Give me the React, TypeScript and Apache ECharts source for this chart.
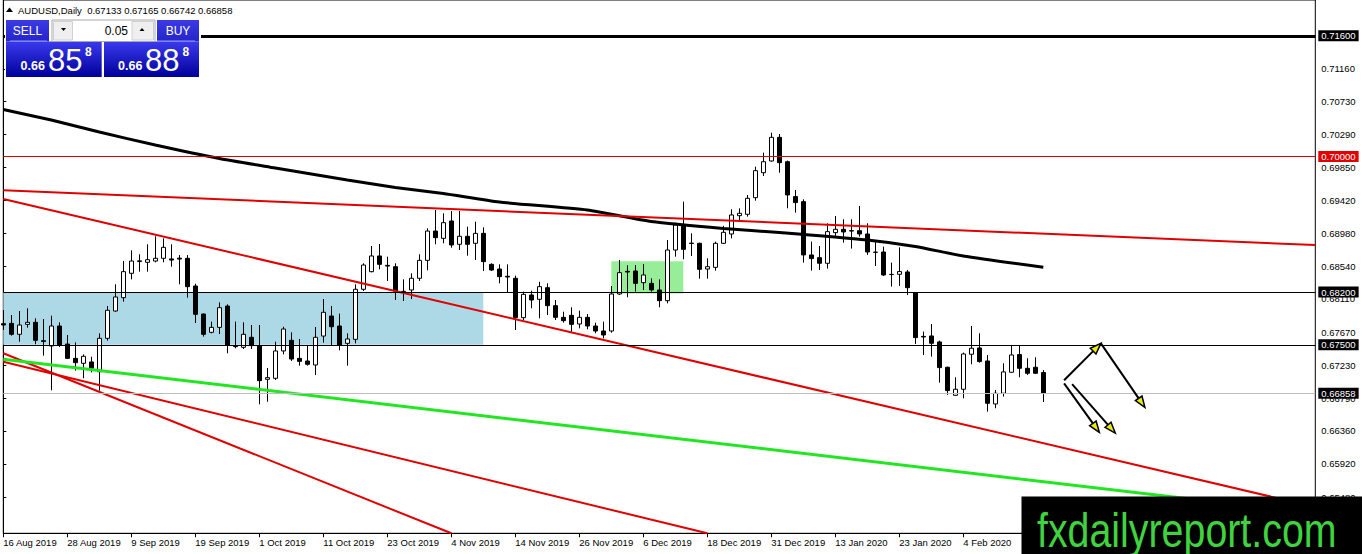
import React, { useEffect, useRef } from "react";
import * as echarts from "echarts";

const chartTitle = "AUDUSD,Daily";
const xTickLabels = [
  "16 Aug 2019", "28 Aug 2019", "9 Sep 2019", "19 Sep 2019", "1 Oct 2019", "11 Oct 2019",
  "23 Oct 2019", "4 Nov 2019", "14 Nov 2019", "26 Nov 2019", "6 Dec 2019", "18 Dec 2019",
  "31 Dec 2019", "13 Jan 2020", "23 Jan 2020", "4 Feb 2020",
];
const slotCount = 165;
const barsPerTick = 8;

const opens = [
  0.67781, 0.67785, 0.6764, 0.67772, 0.67799, 0.67555, 0.67485, 0.6775, 0.67511, 0.67321,
  0.67255, 0.67273, 0.67144, 0.67587, 0.67949, 0.68126, 0.68449, 0.68605, 0.68595, 0.68612,
  0.68648, 0.6864, 0.6865, 0.68648, 0.68281, 0.67909, 0.67666, 0.67732, 0.68015, 0.6748,
  0.67467, 0.676, 0.67489, 0.67043, 0.67056, 0.67419, 0.6756, 0.67321, 0.67286, 0.67233,
  0.67617, 0.67883, 0.6775, 0.6752, 0.67573, 0.68237, 0.68471, 0.68679, 0.68555, 0.68537,
  0.6821, 0.68228, 0.68383, 0.68621, 0.6901, 0.68913, 0.69143, 0.68834, 0.6894, 0.68847,
  0.68979, 0.68568, 0.68506, 0.6841, 0.68383, 0.67861, 0.68162, 0.68104, 0.68259, 0.6802,
  0.67865, 0.67892, 0.67777, 0.67865, 0.6775, 0.67684, 0.67684, 0.68175, 0.68475, 0.6848,
  0.68325, 0.68316, 0.68228, 0.68086, 0.68758, 0.6909, 0.6885, 0.68847, 0.68506, 0.68528,
  0.68847, 0.68971, 0.69214, 0.69232, 0.69453, 0.69784, 0.69939, 0.70253, 0.6993, 0.69467,
  0.694, 0.68693, 0.68657, 0.68582, 0.68989, 0.69033, 0.69015, 0.69015, 0.68971, 0.6873,
  0.68732, 0.68435, 0.68436, 0.68467, 0.68193, 0.67612, 0.67618, 0.67539, 0.67203, 0.66831,
  0.66911, 0.67375, 0.67459, 0.67286, 0.66716, 0.66858, 0.67136, 0.67371, 0.67189, 0.67203,
  0.67133,
];
const highs = [
  0.67962, 0.67896, 0.67949, 0.67985, 0.67852, 0.67843, 0.67887, 0.67799, 0.67631, 0.67533,
  0.67374, 0.67343, 0.67653, 0.68015, 0.68303, 0.68612, 0.68754, 0.68701, 0.68834, 0.6894,
  0.68913, 0.68834, 0.68692, 0.68692, 0.68312, 0.67915, 0.67808, 0.68064, 0.68038, 0.67808,
  0.67799, 0.67763, 0.67763, 0.67193, 0.67542, 0.67741, 0.67666, 0.67578, 0.67489, 0.67737,
  0.68108, 0.68015, 0.67914, 0.67653, 0.68303, 0.68582, 0.68811, 0.68838, 0.6867, 0.68582,
  0.68369, 0.68449, 0.68701, 0.69046, 0.69289, 0.69245, 0.69276, 0.69276, 0.69068, 0.69134,
  0.69059, 0.68582, 0.68568, 0.68568, 0.68418, 0.68206, 0.68219, 0.68338, 0.68316, 0.68095,
  0.6794, 0.67998, 0.67954, 0.67909, 0.67794, 0.67808, 0.68281, 0.68626, 0.68555, 0.68559,
  0.68573, 0.68383, 0.68369, 0.68891, 0.69121, 0.694, 0.6898, 0.68856, 0.68648, 0.68869,
  0.69077, 0.69298, 0.69311, 0.69488, 0.69864, 0.7005, 0.70315, 0.70297, 0.69945, 0.69555,
  0.69431, 0.6887, 0.68812, 0.69113, 0.6921, 0.69166, 0.69166, 0.69343, 0.69113, 0.6887,
  0.68803, 0.68591, 0.68794, 0.68494, 0.682, 0.67676, 0.67777, 0.67556, 0.6721, 0.6707,
  0.67397, 0.67751, 0.67654, 0.67366, 0.66902, 0.67256, 0.67499, 0.67494, 0.67322, 0.67335,
  0.67165,
];
const lows = [
  0.67697, 0.67622, 0.67542, 0.67728, 0.67507, 0.67357, 0.66897, 0.67472, 0.67312, 0.67158,
  0.67056, 0.67135, 0.66892, 0.67556, 0.6794, 0.68073, 0.68369, 0.68471, 0.68471, 0.68595,
  0.68595, 0.68537, 0.68303, 0.68126, 0.6779, 0.67609, 0.67653, 0.67644, 0.67388, 0.67454,
  0.67445, 0.67445, 0.66711, 0.66746, 0.67034, 0.67374, 0.67286, 0.67224, 0.67224, 0.671,
  0.67529, 0.67498, 0.67427, 0.67224, 0.6752, 0.68215, 0.68462, 0.68502, 0.68347, 0.68095,
  0.68082, 0.68108, 0.68347, 0.68489, 0.68834, 0.68847, 0.68789, 0.68758, 0.68683, 0.68626,
  0.6848, 0.6848, 0.68316, 0.68197, 0.67697, 0.6783, 0.67985, 0.67852, 0.67896, 0.6783,
  0.67794, 0.67675, 0.67719, 0.67706, 0.67653, 0.67587, 0.67662, 0.68162, 0.68131, 0.68206,
  0.68228, 0.68206, 0.67998, 0.68051, 0.6867, 0.68635, 0.68679, 0.68378, 0.68378, 0.68484,
  0.68838, 0.68913, 0.69156, 0.69201, 0.69413, 0.6974, 0.6993, 0.69784, 0.69312, 0.69254,
  0.68591, 0.68485, 0.68494, 0.68511, 0.68945, 0.68856, 0.68777, 0.68936, 0.68693, 0.68547,
  0.68414, 0.68273, 0.68282, 0.68162, 0.67512, 0.67366, 0.67344, 0.66999, 0.66836, 0.66825,
  0.66791, 0.67242, 0.67264, 0.66614, 0.66659, 0.66813, 0.6713, 0.6707, 0.67101, 0.67115,
  0.66742,
];
const closes = [
  0.67763, 0.6764, 0.67763, 0.67799, 0.6756, 0.67545, 0.6775, 0.67498, 0.67321, 0.67264,
  0.67348, 0.67189, 0.67587, 0.67958, 0.68135, 0.68471, 0.68612, 0.68615, 0.6863, 0.68648,
  0.68794, 0.68625, 0.68638, 0.68272, 0.67905, 0.6764, 0.67732, 0.67993, 0.67498, 0.67476,
  0.6764, 0.67489, 0.67025, 0.67065, 0.67419, 0.6771, 0.67312, 0.67281, 0.67242, 0.676,
  0.67932, 0.67741, 0.67498, 0.67578, 0.68237, 0.68559, 0.68679, 0.68568, 0.68545, 0.68215,
  0.68205, 0.68383, 0.68621, 0.6901, 0.68922, 0.69121, 0.68825, 0.6894, 0.68834, 0.68979,
  0.68604, 0.68493, 0.68405, 0.684, 0.67861, 0.6817, 0.68095, 0.68272, 0.6802, 0.67865,
  0.67821, 0.67772, 0.67865, 0.6775, 0.67684, 0.67631, 0.68175, 0.68458, 0.68466, 0.68316,
  0.68427, 0.68228, 0.68086, 0.68758, 0.6909, 0.68767, 0.68845, 0.68502, 0.68537, 0.68847,
  0.68993, 0.69223, 0.69245, 0.69444, 0.69811, 0.6993, 0.70253, 0.69917, 0.69489, 0.69387,
  0.68693, 0.68644, 0.68582, 0.69002, 0.69033, 0.68998, 0.6901, 0.68971, 0.68732, 0.68727,
  0.68427, 0.68432, 0.68472, 0.68259, 0.67596, 0.67604, 0.67521, 0.67198, 0.66893, 0.66911,
  0.67379, 0.67455, 0.67278, 0.66725, 0.66858, 0.67141, 0.67366, 0.67189, 0.67123, 0.67123,
  0.66858,
];

const maBars = [0, 6, 12, 19, 27, 34, 43, 49, 55, 62, 73, 81, 90, 97, 108, 114, 120, 130];
const maValues = [
  0.70622, 0.70483, 0.70324, 0.70151, 0.69972, 0.69846, 0.69687, 0.69588, 0.69508, 0.69395,
  0.69289, 0.69137, 0.69044, 0.68991, 0.68891, 0.68805, 0.68679, 0.68529,
];

const priceTicks = [
  0.7116, 0.7073, 0.7029, 0.6985, 0.6942, 0.6898, 0.6854, 0.6811, 0.6767, 0.6723, 0.6679,
  0.6636, 0.6592, 0.6548,
];

// horizontal levels: 0.71600 (thick black), 0.70000 (red), 0.68200, 0.67500 (black)
const levelValues = [0.716, 0.7, 0.682, 0.675];
const bidPrice = 0.66858;
const askPrice = 0.66888;
const lotSize = 0.05;

// trend lines: [barIndex1, price1, barIndex2, price2]
const redTrendLines = [
  [0, 0.6955, 164, 0.68824],
  [0, 0.69435, 164, 0.65348],
  [0, 0.67388, 56, 0.65],
  [0, 0.67277, 88, 0.65],
];
const greenTrendLine = [0, 0.67309, 164, 0.6526];

// zones: [barIndex1, priceLow, barIndex2, priceHigh]
const blueZone = [0, 0.675, 60, 0.682];
const greenZone = [76, 0.6818, 85, 0.6861];

// arrows: [barIndex1, price1, barIndex2, price2]
const arrows = [
  [132.6, 0.6703, 137.2, 0.6752],
  [137.2, 0.6752, 142.7, 0.6667],
  [132.6, 0.6699, 137.0, 0.6634],
  [133.6, 0.6698, 139.0, 0.6633],
];

const FONT = "Liberation Sans";

function splitQuote(q: number) {
  const s = q.toFixed(5);
  return { big: s.slice(0, 4), mid: s.slice(4, 6), small: s.slice(6) };
}

export default function App() {
  const ref = useRef<HTMLDivElement>(null);

  useEffect(() => {
    if (!ref.current) return;
    const chart = echarts.init(ref.current, undefined, { renderer: "svg" });

    const candleData = opens.map((o, i) => [o, closes[i], lows[i], highs[i]]);
    const slots = Array.from({ length: slotCount }, (_, i) => String(i));
    const maData = maBars.map((b, i) => [b, maValues[i]]);

    const levelStyles = [
      { color: "#000000", width: 3, bg: "#000000" },
      { color: "#e00000", width: 1, bg: "#e00000" },
      { color: "#000000", width: 1, bg: "#000000" },
      { color: "#000000", width: 1, bg: "#000000" },
    ];
    const markLines: any[] = levelValues.map((v, i) => ({
      yAxis: v,
      lineStyle: { color: levelStyles[i].color, width: levelStyles[i].width, type: "solid" },
      label: { backgroundColor: levelStyles[i].bg },
    }));
    markLines.push({
      yAxis: bidPrice,
      lineStyle: { color: "#bdbdbd", width: 1, type: "solid" },
      label: { backgroundColor: "#000000" },
    });

    const lastIdx = opens.length - 1;
    const header = `${chartTitle}  ${opens[lastIdx].toFixed(5)} ${highs[lastIdx].toFixed(5)} ${lows[lastIdx].toFixed(5)} ${closes[lastIdx].toFixed(5)}`;
    const sq = splitQuote(bidPrice);
    const bq = splitQuote(askPrice);

    const blueGrad = new echarts.graphic.LinearGradient(0, 0, 0, 1, [
      { offset: 0, color: "#3a3aee" },
      { offset: 1, color: "#00009a" },
    ]);
    const labelBlue = new echarts.graphic.LinearGradient(0, 0, 0, 1, [
      { offset: 0, color: "#3b3be6" },
      { offset: 1, color: "#2424c8" },
    ]);

    const zoneRender = (fill: string) => (params: any, api: any) => {
      const a = api.coord([api.value(0), api.value(1)]);
      const b = api.coord([api.value(2), api.value(3)]);
      return {
        type: "rect",
        shape: { x: a[0], y: b[1], width: b[0] - a[0], height: a[1] - b[1] },
        style: { fill },
      };
    };

    const arrowRender = (params: any, api: any) => {
      const p1 = api.coord([api.value(0), api.value(1)]);
      const p2 = api.coord([api.value(2), api.value(3)]);
      const dx = p2[0] - p1[0];
      const dy = p2[1] - p1[1];
      const len = Math.hypot(dx, dy) || 1;
      const ux = dx / len;
      const uy = dy / len;
      const hl = 11;
      const hw = 4;
      const bx = p2[0] - ux * hl;
      const by = p2[1] - uy * hl;
      return {
        type: "group",
        children: [
          {
            type: "line",
            shape: { x1: p1[0], y1: p1[1], x2: bx, y2: by },
            style: { stroke: "#000", lineWidth: 2 },
          },
          {
            type: "polygon",
            shape: {
              points: [
                [p2[0], p2[1]],
                [bx - uy * hw, by + ux * hw],
                [bx + uy * hw, by - ux * hw],
              ],
            },
            style: { fill: "#eaea10", stroke: "#000", lineWidth: 1.5 },
          },
        ],
      };
    };

    const option: any = {
      animation: false,
      backgroundColor: "#ffffff",
      grid: {
        left: 3.3,
        right: 46.7,
        top: 0,
        bottom: 20.7,
        show: true,
        borderColor: "#000",
        borderWidth: 1,
        backgroundColor: "transparent",
      },
      xAxis: [
        {
          type: "category",
          data: slots,
          boundaryGap: false,
          axisLine: { show: true, lineStyle: { color: "#000", width: 1 } },
          axisTick: { show: true, interval: barsPerTick - 1, length: 4, lineStyle: { color: "#000" } },
          axisLabel: {
            interval: barsPerTick - 1,
            align: "left",
            margin: 4,
            color: "#000",
            fontSize: 9.5,
            fontFamily: FONT,
            formatter: (_v: string, idx: number) =>
              idx % barsPerTick === 0 ? xTickLabels[idx / barsPerTick] ?? "" : "",
          },
          splitLine: { show: false },
        },
        {
          type: "value",
          min: 0,
          max: slotCount - 1,
          show: false,
          splitLine: { show: false },
        },
      ],
      yAxis: {
        type: "value",
        position: "right",
        min: 0.65,
        max: 0.72075,
        axisLine: { show: true, lineStyle: { color: "#000" } },
        axisTick: { show: true, length: 3, customValues: priceTicks, lineStyle: { color: "#000" } },
        axisLabel: {
          customValues: priceTicks,
          margin: 6,
          color: "#000",
          fontSize: 9.5,
          fontFamily: FONT,
          formatter: (v: number) => v.toFixed(5),
        },
        splitLine: { show: false },
      },
      series: [
        {
          type: "custom",
          name: "blueZone",
          xAxisIndex: 1,
          z: 1,
          renderItem: zoneRender("#add8e6"),
          data: [blueZone],
          silent: true,
        },
        {
          type: "custom",
          name: "greenZone",
          xAxisIndex: 1,
          z: 1,
          renderItem: zoneRender("#98ee98"),
          data: [greenZone],
          silent: true,
        },
        {
          type: "line",
          name: "levels",
          xAxisIndex: 1,
          z: 2,
          data: [],
          markLine: {
            silent: true,
            symbol: ["none", "none"],
            precision: 5,
            animation: false,
            label: {
              show: true,
              position: "end",
              distance: 3,
              color: "#fff",
              fontSize: 9.5,
              fontFamily: FONT,
              padding: [1, 3, 0, 3],
              lineHeight: 10,
              formatter: (p: any) => Number(p.value).toFixed(5),
            },
            data: markLines,
          },
        },
        {
          type: "candlestick",
          name: "AUDUSD",
          xAxisIndex: 0,
          z: 3,
          barWidth: 5,
          data: candleData,
          itemStyle: {
            color: "#ffffff",
            color0: "#000000",
            borderColor: "#000000",
            borderColor0: "#000000",
            borderWidth: 1,
          },
        },
        {
          type: "line",
          name: "MA",
          xAxisIndex: 1,
          z: 4,
          data: maData,
          showSymbol: false,
          smooth: 0.2,
          lineStyle: { color: "#000", width: 3 },
        },
        ...redTrendLines.map((t) => ({
          type: "line",
          xAxisIndex: 1,
          z: 4,
          data: [
            [t[0], t[1]],
            [t[2], t[3]],
          ],
          showSymbol: false,
          lineStyle: { color: "#e00000", width: 2 },
        })),
        {
          type: "line",
          xAxisIndex: 1,
          z: 4,
          data: [
            [greenTrendLine[0], greenTrendLine[1]],
            [greenTrendLine[2], greenTrendLine[3]],
          ],
          showSymbol: false,
          lineStyle: { color: "#22e622", width: 3 },
        },
        {
          type: "custom",
          name: "arrows",
          xAxisIndex: 1,
          z: 5,
          renderItem: arrowRender,
          data: arrows,
          silent: true,
        },
      ],
      graphic: [
        // header
        {
          type: "polygon",
          z: 100,
          shape: { points: [[6, 12], [9.5, 7.5], [13, 12]] },
          style: { fill: "#000" },
        },
        {
          type: "text",
          z: 100,
          x: 18,
          y: 10,
          style: { text: header, fill: "#000", fontSize: 9.5, fontFamily: FONT, verticalAlign: "middle" },
        },
        // trade panel
        { type: "rect", z: 100, shape: { x: 5, y: 19, width: 196, height: 59 }, style: { fill: "#fff" } },
        { type: "rect", z: 101, shape: { x: 6, y: 20, width: 43, height: 21.5 }, style: { fill: labelBlue } },
        { type: "rect", z: 101, shape: { x: 157, y: 20, width: 42, height: 21.5 }, style: { fill: labelBlue } },
        { type: "rect", z: 101, shape: { x: 6, y: 41.5, width: 95.7, height: 35.5 }, style: { fill: blueGrad } },
        { type: "rect", z: 101, shape: { x: 104, y: 41.5, width: 95, height: 35.5 }, style: { fill: blueGrad } },
        { type: "line", z: 102, shape: { x1: 10, y1: 41, x2: 47, y2: 41 }, style: { stroke: "#9a9aff", lineWidth: 1 } },
        { type: "line", z: 102, shape: { x1: 157, y1: 41, x2: 195, y2: 41 }, style: { stroke: "#9a9aff", lineWidth: 1 } },
        { type: "rect", z: 101, shape: { x: 52, y: 20, width: 103, height: 21.5 }, style: { fill: "#ffffff", stroke: "#a8a8a8", lineWidth: 1 } },
        { type: "rect", z: 102, shape: { x: 53.5, y: 21.5, width: 19, height: 18.5 }, style: { fill: "#efefef", stroke: "#d0d0d0", lineWidth: 1 } },
        { type: "rect", z: 102, shape: { x: 132, y: 21.5, width: 21.5, height: 18.5 }, style: { fill: "#efefef", stroke: "#d0d0d0", lineWidth: 1 } },
        { type: "polygon", z: 103, shape: { points: [[61, 28], [66, 28], [63.5, 31]] }, style: { fill: "#000" } },
        { type: "polygon", z: 103, shape: { points: [[139.5, 31], [144.5, 31], [142, 28]] }, style: { fill: "#000" } },
        {
          type: "text",
          z: 103,
          x: 128,
          y: 30.5,
          style: { text: lotSize.toFixed(2), fill: "#000", fontSize: 12, fontFamily: FONT, align: "right", verticalAlign: "middle" },
        },
        {
          type: "text",
          z: 103,
          x: 27.5,
          y: 30.5,
          style: { text: "SELL", fill: "#fff", fontSize: 12, fontFamily: FONT, align: "center", verticalAlign: "middle" },
        },
        {
          type: "text",
          z: 103,
          x: 178,
          y: 30.5,
          style: { text: "BUY", fill: "#fff", fontSize: 12, fontFamily: FONT, align: "center", verticalAlign: "middle" },
        },
        {
          type: "text",
          z: 103,
          x: 20.5,
          y: 66,
          style: { text: sq.big, fill: "#fff", fontSize: 12.5, fontWeight: "bold", fontFamily: FONT, verticalAlign: "middle" },
        },
        {
          type: "text",
          z: 103,
          x: 48,
          y: 60.5,
          style: { text: sq.mid, fill: "#fff", fontSize: 31, fontFamily: FONT, verticalAlign: "middle" },
        },
        {
          type: "text",
          z: 103,
          x: 85,
          y: 51.5,
          style: { text: sq.small, fill: "#fff", fontSize: 12, fontWeight: "bold", fontFamily: FONT, verticalAlign: "middle" },
        },
        {
          type: "text",
          z: 103,
          x: 118,
          y: 66,
          style: { text: bq.big, fill: "#fff", fontSize: 12.5, fontWeight: "bold", fontFamily: FONT, verticalAlign: "middle" },
        },
        {
          type: "text",
          z: 103,
          x: 145,
          y: 60.5,
          style: { text: bq.mid, fill: "#fff", fontSize: 31, fontFamily: FONT, verticalAlign: "middle" },
        },
        {
          type: "text",
          z: 103,
          x: 182.5,
          y: 51.5,
          style: { text: bq.small, fill: "#fff", fontSize: 12, fontWeight: "bold", fontFamily: FONT, verticalAlign: "middle" },
        },
        // watermark
        { type: "rect", z: 110, shape: { x: 1021.5, y: 496.5, width: 341, height: 58 }, style: { fill: "#000" } },
        {
          type: "text",
          z: 111,
          x: 1037,
          y: 530.5,
          scaleX: 0.82,
          style: {
            text: "fxdailyreport.com",
            fill: "#3fd43f",
            fontSize: 48,
            fontFamily: FONT,
            verticalAlign: "middle",
          },
        },
      ],
    };

    chart.setOption(option);
    return () => chart.dispose();
  }, []);

  return (
    <div
      ref={ref}
      style={{ position: "fixed", left: 0, top: 0, width: 1362, height: 554, background: "#fff" }}
    />
  );
}
